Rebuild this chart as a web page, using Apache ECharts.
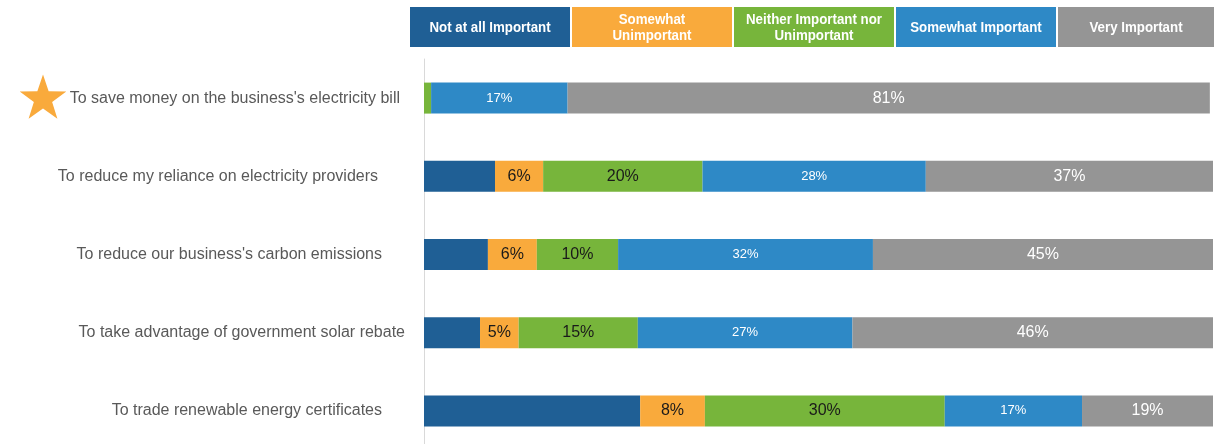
<!DOCTYPE html>
<html>
<head>
<meta charset="utf-8">
<script src="https://cdn.jsdelivr.net/npm/echarts@6/dist/echarts.min.js"></script>
<style>
html,body{margin:0;padding:0;background:#fff;}
#main{width:1214px;height:444px;}
</style>
</head>
<body>
<div id="main"></div>
<script>
var categories = [
  "To save money on the business's electricity bill",
  "To reduce my reliance on electricity providers",
  "To reduce our business's carbon emissions",
  "To take advantage of government solar rebate",
  "To trade renewable energy certificates"
];
var seriesNames = ["Not at all Important", "Somewhat\nUnimportant", "Neither Important nor\nUnimportant", "Somewhat Important", "Very Important"];
var notAtAll      = [0,    9.0,  8.1,  7.1,  27.4];
var somewhatUnimp = [0,    6.1,  6.2,  4.9,  8.2];
var neither       = [0.9,  20.2, 10.3, 15.1, 30.4];
var somewhatImp   = [17.3, 28.3, 32.3, 27.2, 17.4];
var veryImp       = [81.4, 36.6, 44.6, 45.7, 18.6];

var colors = ["#1F5F95", "#F9AA3C", "#77B53B", "#2E89C6", "#959595"];
var narrow = "'Liberation Sans Narrow','Arial Narrow','Liberation Sans',Arial,sans-serif";

var chart = echarts.init(document.getElementById('main'));

function mkSeries(name, data, color, labelOpt) {
  return {
    name: name,
    type: 'bar',
    stack: 'total',
    data: data,
    barWidth: 31,
    clip: true,
    itemStyle: { color: color },
    label: labelOpt,
    emphasis: { disabled: true }
  };
}
function lab(color, size) {
  return {
    show: true,
    position: 'inside',
    color: color,
    fontSize: size,
    fontFamily: narrow,
    formatter: function (p) { return p.value < 3 ? '' : Math.round(p.value) + '%'; }
  };
}

// label right-edge offsets per category (text in reference isn't flush)
var labelPad = [5, 27, 23, 0, 23];
var rich = {};
labelPad.forEach(function (pd, i) {
  rich['a' + i] = { padding: [0, pd, 0, 0], fontSize: 16, color: '#595959', fontFamily: "'Liberation Sans',Arial,sans-serif" };
});

// legend boxes
var legendX = [410, 572, 734, 896, 1058];
var legendW = 160;
var graphics = [];
seriesNames.forEach(function (n, i) {
  graphics.push({
    type: 'rect',
    shape: { x: legendX[i], y: 7, width: (i === 4 ? 156 : legendW), height: 40 },
    style: { fill: colors[i] },
    silent: true
  });
  graphics.push({
    type: 'text',
    x: legendX[i] + (i === 4 ? 78 : 80),
    y: 28,
    scaleX: 0.95,
    style: {
      text: n,
      fill: '#fff',
      font: "bold 14px " + narrow,
      align: 'center',
      verticalAlign: 'middle',
      lineHeight: 16
    },
    silent: true
  });
});
// star
var starPts = [];
var cx = 43, cy = 99, ro = 24.5, ri = 9.6;
for (var k = 0; k < 10; k++) {
  var ang = -Math.PI / 2 + k * Math.PI / 5;
  var r = k % 2 === 0 ? ro : ri;
  starPts.push([cx + r * Math.cos(ang), cy + r * Math.sin(ang)]);
}
graphics.push({ type: 'polygon', shape: { points: starPts }, style: { fill: '#F9AA3C' }, silent: true, z: 10 });

chart.setOption({
  animation: false,
  backgroundColor: '#fff',
  grid: { left: 424, right: 1, top: 59, height: 391, containLabel: false, outerBoundsMode: 'none' },
  xAxis: { type: 'value', min: 0, max: 100, show: false },
  yAxis: {
    type: 'category',
    inverse: true,
    data: categories,
    axisLine: { show: true, lineStyle: { color: '#d9d9d9', width: 1 } },
    axisTick: { show: false },
    axisLabel: {
      margin: 19,
      align: 'right',
      formatter: function (v, i) { return '{a' + i + '|' + v + '}'; },
      rich: rich
    }
  },
  series: [
    mkSeries(seriesNames[0], notAtAll, colors[0], { show: false }),
    mkSeries(seriesNames[1], somewhatUnimp, colors[1], lab('#1a1a1a', 16)),
    mkSeries(seriesNames[2], neither, colors[2], lab('#1a1a1a', 16)),
    mkSeries(seriesNames[3], somewhatImp, colors[3], lab('#ffffff', 13)),
    mkSeries(seriesNames[4], veryImp, colors[4], lab('#ffffff', 16))
  ],
  graphic: graphics
});
</script>
</body>
</html>
